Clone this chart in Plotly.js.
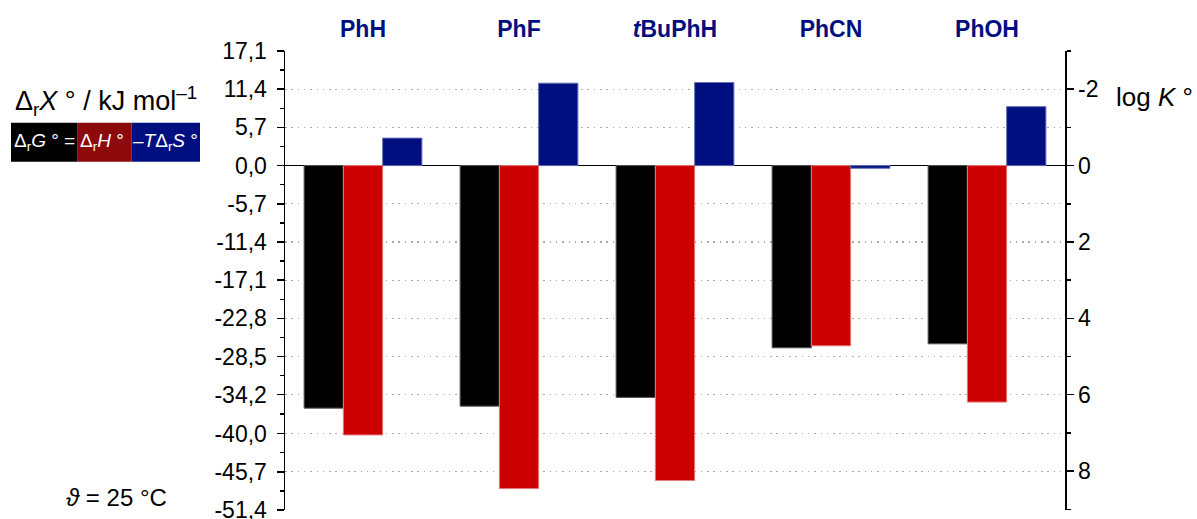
<!DOCTYPE html>
<html>
<head>
<meta charset="utf-8">
<script src="https://cdn.plot.ly/plotly-3.0.1.min.js"></script>
<style>html,body{margin:0;padding:0;background:#fff;}#chart{width:1197px;height:519px;}</style>
</head>
<body>
<div id="chart"></div>
<script>
// ---- data ----
const categories = ['PhH', 'PhF', '<i>t</i>BuPhH', 'PhCN', 'PhOH'];
const dG   = [-36.2, -35.9, -34.6, -27.2, -26.6];   // ΔrG° / kJ mol-1
const dH   = [-40.2, -48.2, -47.0, -26.9, -35.3];   // ΔrH° / kJ mol-1
const mTdS = [  4.1,  12.3,  12.4,  -0.4,   8.8];   // −TΔrS° / kJ mol-1

const leftTickVals = [17.1, 11.4, 5.7, 0, -5.7, -11.4, -17.1, -22.8, -28.5, -34.2, -40.0, -45.7, -51.4];
const leftTickText = ['17,1', '11,4', '5,7', '0,0', '-5,7', '-11,4', '-17,1', '-22,8', '-28,5', '-34,2', '-40,0', '-45,7', '-51,4'];
const leftMinorVals = [14.25, 8.55, 2.85, -2.85, -8.55, -14.25, -19.95, -25.65, -31.35, -37.1, -42.85, -48.55];
const gridVals = [11.4, 5.7, -5.7, -11.4, -17.1, -22.8, -28.5, -34.2, -40.0, -45.7];
const rightTickVals = [-2, 0, 2, 4, 6, 8];
const rightTickText = ['-2', '0', '2', '4', '6', '8'];
const rightMinorVals = [-3, -1, 1, 3, 5, 7, 9];
const kJperLogK = 5.7;
const yMin = -51.4, yMax = 17.1;
const eps = 0.002;

// ---- layout geometry ----
const W = 1197, H = 519;
const M = {l: 285, r: 132, t: 51, b: 9};
const PW = W - M.l - M.r, PH = H - M.t - M.b;
const fx = px => (px - M.l) / PW;
const fy = py => (H - M.b - py) / PH;

const FONT = 'Liberation Sans, Arial, sans-serif';
const NAVY = '#000f80', RED = '#cc0000', DARKRED = '#8c0a0a';

const traces = [
  {type: 'bar', x: categories, y: dG, name: 'ΔrG°', marker: {color: '#000000', line: {color: '#555555', width: 1}}},
  {type: 'bar', x: categories, y: dH, name: 'ΔrH°', marker: {color: RED, line: {color: '#e77a7a', width: 1}}},
  {type: 'bar', x: categories, y: mTdS, name: '−TΔrS°', marker: {color: NAVY, line: {color: '#6670b3', width: 1}}},
  // invisible helpers so the secondary axes (log K scale, grid) are drawn
  {type: 'scatter', mode: 'markers', x: [categories[0]], y: [0], yaxis: 'y2', marker: {opacity: 0}, hoverinfo: 'skip', showlegend: false},
  {type: 'scatter', mode: 'markers', x: [categories[0]], y: [0], yaxis: 'y3', marker: {opacity: 0}, hoverinfo: 'skip', showlegend: false}
];

const layout = {
  width: W, height: H,
  margin: M,
  paper_bgcolor: '#ffffff', plot_bgcolor: 'rgba(0,0,0,0)',
  showlegend: false,
  barmode: 'group', bargap: 0.245, bargroupgap: 0,
  font: {family: FONT, color: '#000', size: 23},
  xaxis: {
    side: 'top', type: 'category', showline: false, ticks: '', showgrid: false, zeroline: false,
    tickfont: {family: FONT, size: 23, color: NAVY, weight: 'bold'},
    ticklabelstandoff: 8, fixedrange: true
  },
  yaxis: {
    range: [yMin - eps, yMax + eps], tickmode: 'array', tickvals: leftTickVals, ticktext: leftTickText,
    showgrid: false, zeroline: true, zerolinecolor: '#000', zerolinewidth: 1.5,
    showline: true, linecolor: '#000', linewidth: 1.5, mirror: false,
    ticks: 'outside', ticklen: 7, tickwidth: 1.5, tickcolor: '#000',
    minor: {tickvals: leftMinorVals, ticks: 'outside', ticklen: 4, tickwidth: 1.5, tickcolor: '#000', showgrid: false},
    tickfont: {family: FONT, size: 23, color: '#000'},
    ticklabelstandoff: 5, ticklabeloverflow: 'allow'
  },
  yaxis2: {
    overlaying: 'y', side: 'right',
    range: [-(yMin - eps) / kJperLogK, -(yMax + eps) / kJperLogK],
    tickmode: 'array', tickvals: rightTickVals, ticktext: rightTickText,
    showgrid: false, zeroline: false,
    showline: true, linecolor: '#000', linewidth: 1.5,
    ticks: 'outside', ticklen: 7, tickwidth: 1.5, tickcolor: '#000',
    minor: {tickvals: rightMinorVals, ticks: 'outside', ticklen: 4, tickwidth: 1.5, tickcolor: '#000', showgrid: false},
    tickfont: {family: FONT, size: 23, color: '#000'}, ticklabeloverflow: 'allow'
  },
  yaxis3: {
    overlaying: 'y', range: [yMin - eps, yMax + eps], tickmode: 'array', tickvals: gridVals,
    showgrid: true, gridcolor: '#ababab', gridwidth: 1.3, griddash: '1.5px,4.8px',
    showticklabels: false, ticks: '', showline: false, zeroline: false
  },
  shapes: [
    {type: 'rect', xref: 'paper', yref: 'paper', x0: fx(11), x1: fx(77.7), y0: fy(161.7), y1: fy(122.7), fillcolor: '#000000', line: {width: 0}},
    {type: 'rect', xref: 'paper', yref: 'paper', x0: fx(77.7), x1: fx(131.7), y0: fy(161.7), y1: fy(122.7), fillcolor: DARKRED, line: {width: 0}},
    {type: 'rect', xref: 'paper', yref: 'paper', x0: fx(131.7), x1: fx(200), y0: fy(161.7), y1: fy(122.7), fillcolor: NAVY, line: {width: 0}}
  ],
  annotations: [
    {text: 'Δ<sub>r</sub><i>X</i> ° / kJ mol<sup>–1</sup>', xref: 'paper', yref: 'paper', x: fx(106), y: fy(101), xanchor: 'center', yanchor: 'middle', showarrow: false, font: {family: FONT, size: 27, color: '#000'}},
    {text: 'Δ<sub>r</sub><i>G</i> ° =', xref: 'paper', yref: 'paper', x: fx(12), y: fy(142), xanchor: 'left', yanchor: 'middle', showarrow: false, font: {family: FONT, size: 19, color: '#fff'}},
    {text: 'Δ<sub>r</sub><i>H</i> °', xref: 'paper', yref: 'paper', x: fx(78), y: fy(142), xanchor: 'left', yanchor: 'middle', showarrow: false, font: {family: FONT, size: 19, color: '#fff'}},
    {text: '–<i>T</i>Δ<sub>r</sub><i>S</i> °', xref: 'paper', yref: 'paper', x: fx(131), y: fy(142), xanchor: 'left', yanchor: 'middle', showarrow: false, font: {family: FONT, size: 19, color: '#fff'}},
    {text: 'log <i>K</i> °', xref: 'paper', yref: 'paper', x: fx(1114), y: fy(97), xanchor: 'left', yanchor: 'middle', showarrow: false, font: {family: FONT, size: 26, color: '#000'}},
    {text: '<i>ϑ</i> = 25 °C', xref: 'paper', yref: 'paper', x: fx(64), y: fy(497), xanchor: 'left', yanchor: 'middle', showarrow: false, font: {family: FONT, size: 24, color: '#000'}}
  ]
};

Plotly.newPlot('chart', traces, layout, {displayModeBar: false, staticPlot: true});
</script>
</body>
</html>
